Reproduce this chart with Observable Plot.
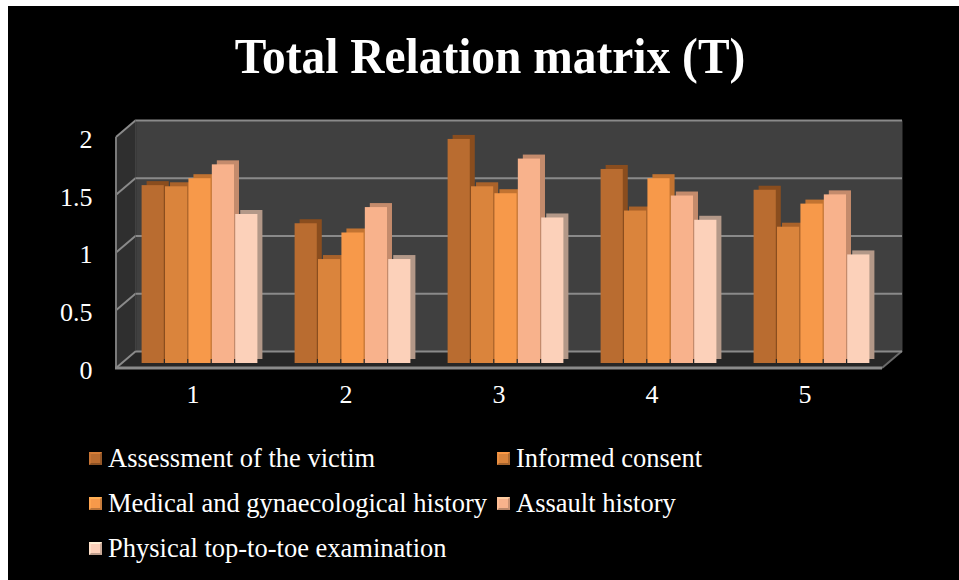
<!DOCTYPE html>
<html>
<head>
<meta charset="utf-8">
<script src="https://cdn.jsdelivr.net/npm/d3@7"></script>
<script src="https://cdn.jsdelivr.net/npm/@observablehq/plot@0.6"></script>
<style>
  html, body { margin: 0; padding: 0; background: #fff; width: 959px; height: 580px; overflow: hidden; }
  #card { position: absolute; left: 8px; top: 6px; width: 951px; height: 574px; background: #000; }
  .abs { position: absolute; }
  #title { left: 0; width: 980px; top: 26px; text-align: center; color: #fff; white-space: nowrap;
           font-family: "Liberation Serif", "Times New Roman", serif; font-weight: bold; font-size: 51px; line-height: 60px;
           transform: scaleX(0.93); transform-origin: 490px 0; }
  #chart { left: 0; top: 100px; }
  .leg { position: absolute; color: #fff; font-family: "Liberation Serif", "Times New Roman", serif; font-size: 26.5px;
         line-height: 30px; white-space: nowrap; display: flex; align-items: center; }
  .sw { width: 13px; height: 13px; margin-right: 6px; box-sizing: border-box; }
</style>
</head>
<body>
<div id="card"></div>
<div id="title" class="abs">Total Relation matrix (T)</div>
<div id="chart" class="abs"></div>
<div id="legend"></div>
<script>
// ---- data ----
const groups = ["1", "2", "3", "4", "5"];
const seriesNames = [
  "Assessment of the victim",
  "Informed consent",
  "Medical and gynaecological history",
  "Assault history",
  "Physical top-to-toe examination"
];
const assessment = [1.54, 1.21, 1.94, 1.68, 1.50];
const informed   = [1.53, 0.90, 1.53, 1.32, 1.18];
const medical    = [1.60, 1.13, 1.47, 1.60, 1.38];
const assault    = [1.72, 1.35, 1.77, 1.45, 1.46];
const physical   = [1.29, 0.90, 1.26, 1.24, 0.94];
const yTicks = [0, 0.5, 1, 1.5, 2];
const yTickLabels = ["0", "0.5", "1", "1.5", "2"];

// ---- styles ----
const seriesValues = [assessment, informed, medical, assault, physical];
const colors = ["#B96C30", "#DA843C", "#F7994A", "#F8B28C", "#FCD1BA"];
const sideColors = ["#8A4D1E", "#A9622A", "#C27331", "#C48B6C", "#B39888"];

const rows = seriesNames.flatMap((s, i) =>
  groups.map((g, j) => ({ group: g, series: s, si: i, value: seriesValues[i][j] })));

const W = 959, H = 330, mL = 122, mR = 71, mT = 32, mB = 67;
const pIn = 0.236, pOut = 0.118;
const bw = (W - mL - mR) / (groups.length - pIn + 2 * pOut) * (1 - pIn);
const slot = bw / seriesNames.length;
const serif = "Liberation Serif, Times New Roman, serif";

const marks = [
  Plot.frame({ fill: "#404040", stroke: null, dx: 14, dy: -12 }),
  Plot.ruleY(yTicks, { stroke: "#8a8a8a", strokeWidth: 2, dx: 14, dy: -12 })
];
seriesNames.forEach((s, i) => {
  const d = rows.filter(r => r.si === i);
  const inset = { insetLeft: i * slot + 0.6, insetRight: (seriesNames.length - 1 - i) * slot + 0.6 };
  marks.push(Plot.barY(d, { x: "group", y: "value", fill: sideColors[i], dx: 5, dy: -4, ...inset }));
  marks.push(Plot.barY(d, { x: "group", y: "value", fill: colors[i], ...inset }));
});
marks.push(Plot.axisY(yTicks, {
  tickSize: 0, tickPadding: 30, dy: 7, fontSize: 26, fontFamily: serif, fill: "#fff", label: null,
  tickFormat: v => yTickLabels[yTicks.indexOf(v)]
}));
marks.push(Plot.axisX({ tickSize: 0, tickPadding: 21, dx: -7, fontSize: 26, fontFamily: serif, fill: "#fff", label: null }));

const plot = Plot.plot({
  width: W, height: H,
  marginLeft: mL, marginRight: mR, marginTop: mT, marginBottom: mB,
  x: { domain: groups, paddingInner: pIn, paddingOuter: pOut },
  y: { domain: [0, 2] },
  style: { background: "transparent", color: "#fff", fontFamily: serif, overflow: "visible" },
  marks
});
document.getElementById("chart").appendChild(plot);

// 3D walls / floor drawn with the plot's own y scale
const ys = plot.scale("y");
const y0 = ys.apply(0), y2 = ys.apply(2);
const L = mL, R = W - mR;
const frameNode = plot.querySelector('[aria-label="frame"]');
const g = d3.create("svg:g");
frameNode.after(g.node());
g.append("polygon")
  .attr("points", [[L - 6, y2 + 5], [L + 14, y2 - 12], [L + 14, y0 - 12], [L - 6, y0 + 5]].join(" "))
  .attr("fill", "#2f2f2f");
g.append("polygon")
  .attr("points", [[L + 14, y0 - 12], [R + 14, y0 - 12], [R - 6, y0 + 5], [L - 6, y0 + 5]].join(" "))
  .attr("fill", "#262626");
g.selectAll("line.tk").data(yTicks).join("line")
  .attr("x1", L - 6).attr("x2", L + 14)
  .attr("y1", t => ys.apply(t) + 5).attr("y2", t => ys.apply(t) - 12)
  .attr("stroke", "#8a8a8a").attr("stroke-width", 2);
g.append("line").attr("x1", L - 6).attr("x2", L - 6).attr("y1", y2 + 5).attr("y2", y0 + 5)
  .attr("stroke", "#7a7a7a").attr("stroke-width", 2);
g.append("line").attr("x1", L + 14).attr("x2", L + 14).attr("y1", y2 - 12).attr("y2", y0 - 12)
  .attr("stroke", "#555").attr("stroke-width", 1);
g.append("line").attr("x1", R - 6).attr("x2", R + 14).attr("y1", y0 + 5).attr("y2", y0 - 12)
  .attr("stroke", "#6a6a6a").attr("stroke-width", 2);
g.append("line").attr("x1", L - 7).attr("x2", R - 6).attr("y1", y0 + 5).attr("y2", y0 + 5)
  .attr("stroke", "#8a8a8a").attr("stroke-width", 3);

// ---- legend ----
const legPos = [[89, 458], [497, 458], [89, 503], [497, 503], [89, 548]];
const leg = document.getElementById("legend");
seriesNames.forEach((s, i) => {
  const item = document.createElement("div");
  item.className = "leg";
  item.style.left = legPos[i][0] + "px";
  item.style.top = (legPos[i][1] - 15) + "px";
  const sw = document.createElement("span");
  sw.className = "sw";
  sw.style.background = colors[i];
  sw.style.border = "2px solid";
  sw.style.borderColor = `${d3.color(colors[i]).brighter(0.4)} ${d3.color(colors[i]).darker(0.6)} ${d3.color(colors[i]).darker(0.8)} ${d3.color(colors[i]).brighter(0.2)}`;
  item.appendChild(sw);
  const tx = document.createElement("span");
  tx.textContent = s;
  item.appendChild(tx);
  leg.appendChild(item);
});
</script>
</body>
</html>
